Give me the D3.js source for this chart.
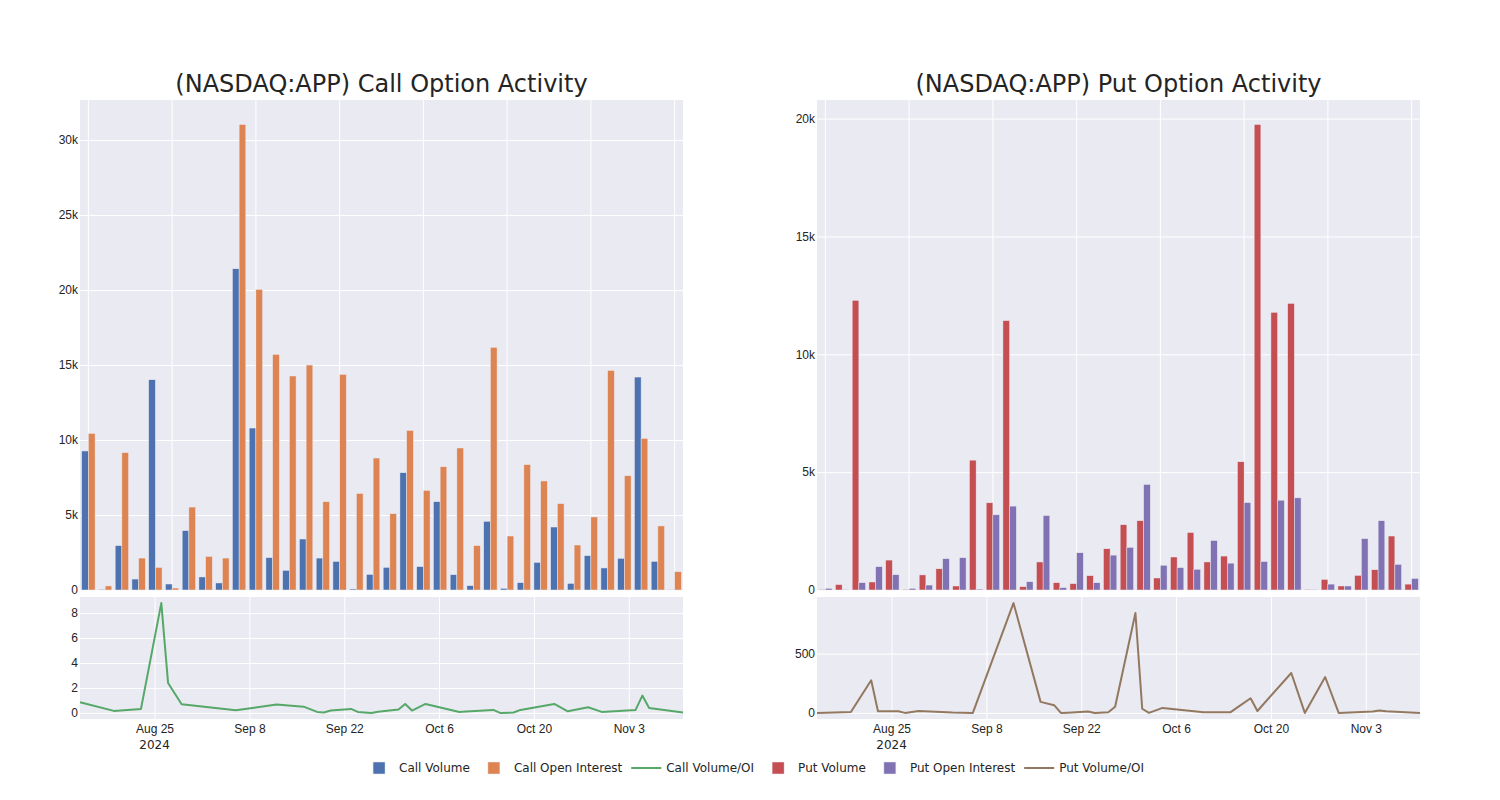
<!DOCTYPE html>
<html>
<head>
<meta charset="utf-8">
<script src="https://cdn.jsdelivr.net/npm/d3@7"></script>
<style>
  html, body { margin: 0; padding: 0; background: #fff; }
  svg { display: block; font-family: "DejaVu Sans", verdana, arial, sans-serif; }
</style>
</head>
<body>
<svg id="chart" width="1500" height="800"></svg>
<script>
// ---------------- DATA ----------------
const dates = ["2024-08-14","2024-08-19","2024-08-22","2024-08-23","2024-08-26","2024-08-27","2024-08-29",
  "2024-09-03","2024-09-06","2024-09-12","2024-09-16","2024-09-18","2024-09-19","2024-09-20","2024-09-23",
  "2024-09-24","2024-09-26","2024-09-27","2024-09-30","2024-10-01","2024-10-02","2024-10-04","2024-10-09",
  "2024-10-10","2024-10-14","2024-10-15","2024-10-17","2024-10-18","2024-10-23","2024-10-25","2024-10-28",
  "2024-10-30","2024-11-04","2024-11-05","2024-11-06","2024-11-11"];

const callVolume = [9270, 50, 2960, 730, 14020, 400, 3960, 870, 470, 21420, 10800, 2160, 1310, 3400, 2130, 1910,
  70, 1040, 1510, 7820, 1560, 5890, 1020, 290, 4580, 110, 490, 1840, 4200, 440, 2290, 1470, 2110, 14200, 1910, 20];
const callOI = [10440, 270, 9160, 2130, 1510, 130, 5530, 2240, 2130, 31040, 20040, 15710, 14270, 15000, 5890, 14380,
  6440, 8800, 5090, 10640, 6640, 8220, 9470, 2960, 16180, 3600, 8360, 7270, 5760, 3000, 4870, 14640, 7620, 10110, 4270, 1220];
const callRatio = [0.85, 0.16, 0.28, 0.32, 8.8, 2.4, 0.69, 0.4, 0.21, 0.67, 0.5, 0.08, 0.03, 0.19, 0.32, 0.08,
  0.0, 0.1, 0.27, 0.72, 0.19, 0.72, 0.08, 0.11, 0.24, 0.0, 0.03, 0.24, 0.72, 0.13, 0.45, 0.08, 0.24, 1.39, 0.4, 0.03];

const putVolume = [30, 230, 12290, 340, 1270, 30, 640, 900, 170, 5510, 3700, 11430, 140, 1190, 310, 270, 610, 1750,
  2770, 2940, 510, 1400, 2440, 1190, 1440, 5440, 19750, 11780, 12160, 30, 450, 170, 620, 860, 2290, 250];
const putOI = [70, 10, 310, 990, 650, 70, 210, 1330, 1370, 40, 3190, 3560, 350, 3160, 100, 1580, 310, 1480,
  1810, 4480, 1050, 950, 880, 2100, 1140, 3710, 1210, 3810, 3910, 10, 250, 170, 2180, 2940, 1090, 490];
const putRatio = [0, 8, 275, 14, 14, 0, 17, 4, 0, 927, 93, 65, 0, 2, 11, 0, 6, 52, 843, 35, 0, 42, 11, 5, 5, 45,
  124, 16, 337, 0, 303, 0, 11, 20, 14, 0];

const callTopTicks = [0, 5000, 10000, 15000, 20000, 25000, 30000];
const callBottomTicks = [0, 2, 4, 6, 8];
const putTopTicks = [0, 5000, 10000, 15000, 20000];
const putBottomTicks = [0, 500];
const dateTicks = ["2024-08-25", "2024-09-08", "2024-09-22", "2024-10-06", "2024-10-20", "2024-11-03"];
const titles = ["(NASDAQ:APP) Call Option Activity", "(NASDAQ:APP) Put Option Activity"];
const legendItems = [
  {name: "Call Volume", type: "bar", color: "#4C72B0"},
  {name: "Call Open Interest", type: "bar", color: "#DD8452"},
  {name: "Call Volume/OI", type: "line", color: "#55A868"},
  {name: "Put Volume", type: "bar", color: "#C44E52"},
  {name: "Put Open Interest", type: "bar", color: "#8172B3"},
  {name: "Put Volume/OI", type: "line", color: "#937860"}
];

// ---------------- LAYOUT ----------------
const BG = "#EAEAF2", TXT = "rgb(36,36,36)", EDGE = "rgb(234,234,242)";
const topY = [100, 590], botY = [597, 719];
const svg = d3.select("#chart");
svg.append("rect").attr("width", 1500).attr("height", 800).attr("fill", "#fff");

const parse = d3.utcParse("%Y-%m-%d");
const fmtMD = d3.utcFormat("%b %-d");

function padRange(vals) {
  const mn = Math.min(0, d3.min(vals)), mx = d3.max(vals);
  const L = (mx - mn) / 0.9;
  return [mn - 0.05 * L, mx + 0.05 * L];
}

function panel(cfg) {
  const [x0, x1] = cfg.xr;
  const g = svg.append("g");

  // ---- top bar chart ----
  g.append("rect").attr("x", x0).attr("y", topY[0]).attr("width", x1 - x0).attr("height", topY[1] - topY[0]).attr("fill", BG);
  const xb = d3.scaleBand().domain(dates).range([x0, x1]).paddingInner(0.2).paddingOuter(0.1);
  const xs = d3.scaleBand().domain([0, 1]).range([0, xb.bandwidth()]);
  const yT = d3.scaleLinear().domain([0, d3.max(cfg.oi.concat(cfg.vol)) * 1.0526]).range([topY[1], topY[0]]);

  // vertical grid every 5 categories
  const gridCats = dates.filter((d, i) => i % 5 === 0);
  g.append("g").selectAll("line").data(gridCats).join("line")
    .attr("x1", d => xb(d) + xb.bandwidth() / 2).attr("x2", d => xb(d) + xb.bandwidth() / 2)
    .attr("y1", topY[0]).attr("y2", topY[1]).attr("stroke", "#fff").attr("stroke-width", 1);

  const ayT = d3.axisLeft(yT).tickValues(cfg.topTicks).tickFormat(d3.format("~s")).tickSize(-(x1 - x0)).tickPadding(2);
  const gyT = g.append("g").attr("transform", `translate(${x0},0)`).call(ayT);
  gyT.select(".domain").remove();
  gyT.selectAll("line").attr("stroke", "#fff").attr("stroke-width", 1);
  gyT.selectAll("text").attr("fill", TXT).style("font-size", "12px").style("font-family", "inherit");

  const series = [{v: cfg.vol, c: cfg.colors[0]}, {v: cfg.oi, c: cfg.colors[1]}];
  series.forEach((s, si) => {
    g.append("g").selectAll("rect").data(dates).join("rect")
      .attr("x", d => xb(d) + xs(si))
      .attr("width", xs.bandwidth())
      .attr("y", (d, i) => yT(s.v[i]))
      .attr("height", (d, i) => yT(0) - yT(s.v[i]))
      .attr("fill", s.c).attr("stroke", EDGE).attr("stroke-width", 0.5);
  });

  // ---- bottom line chart ----
  g.append("rect").attr("x", x0).attr("y", botY[0]).attr("width", x1 - x0).attr("height", botY[1] - botY[0]).attr("fill", BG);
  const xt = d3.scaleUtc().domain([parse(dates[0]), parse(dates[dates.length - 1])]).range([x0, x1]);
  const yB = d3.scaleLinear().domain(padRange(cfg.ratio)).range([botY[1], botY[0]]);

  const ayB = d3.axisLeft(yB).tickValues(cfg.botTicks).tickFormat(d3.format("~s")).tickSize(-(x1 - x0)).tickPadding(2);
  const gyB = g.append("g").attr("transform", `translate(${x0},0)`).call(ayB);
  gyB.select(".domain").remove();
  gyB.selectAll("line").attr("stroke", "#fff").attr("stroke-width", 1);
  gyB.selectAll("text").attr("fill", TXT).style("font-size", "12px").style("font-family", "inherit");

  const tickDates = dateTicks.map(parse);
  const axB = d3.axisBottom(xt).tickValues(tickDates).tickFormat(fmtMD).tickSize(-(botY[1] - botY[0])).tickPadding(5);
  const gxB = g.append("g").attr("transform", `translate(0,${botY[1]})`).call(axB);
  gxB.select(".domain").remove();
  gxB.selectAll("line").attr("stroke", "#fff").attr("stroke-width", 1);
  gxB.selectAll("text").attr("fill", TXT).style("font-size", "12px").style("font-family", "inherit");
  // year label under first tick
  g.append("text").attr("x", xt(tickDates[0])).attr("y", 749).attr("text-anchor", "middle")
    .attr("fill", TXT).style("font-size", "12px").text(d3.utcFormat("%Y")(tickDates[0]));

  const line = d3.line().x((d, i) => xt(parse(dates[i]))).y(d => yB(d));
  g.append("path").datum(cfg.ratio).attr("d", line).attr("fill", "none")
    .attr("stroke", cfg.colors[2]).attr("stroke-width", 2).attr("stroke-linejoin", "round");

  // title
  g.append("text").attr("x", (x0 + x1) / 2).attr("y", 92).attr("text-anchor", "middle")
    .attr("fill", TXT).style("font-size", "24px").text(cfg.title);
}

panel({xr: [80, 683], vol: callVolume, oi: callOI, ratio: callRatio, topTicks: callTopTicks,
  botTicks: callBottomTicks, colors: ["#4C72B0", "#DD8452", "#55A868"], title: titles[0]});
panel({xr: [817, 1420], vol: putVolume, oi: putOI, ratio: putRatio, topTicks: putTopTicks,
  botTicks: putBottomTicks, colors: ["#C44E52", "#8172B3", "#937860"], title: titles[1]});

// ---------------- LEGEND ----------------
const lg = svg.append("g");
let cx = 0;
legendItems.forEach(it => {
  const ig = lg.append("g").attr("transform", `translate(${cx},0)`);
  if (it.type === "bar") {
    ig.append("rect").attr("x", 14).attr("y", -6).attr("width", 12).attr("height", 12)
      .attr("fill", it.color).attr("stroke", EDGE).attr("stroke-width", 0.5);
  } else {
    ig.append("line").attr("x1", 5).attr("x2", 35).attr("y1", 0).attr("y2", 0)
      .attr("stroke", it.color).attr("stroke-width", 2);
  }
  const t = ig.append("text").attr("x", 40).attr("y", 0).attr("dy", "0.35em")
    .attr("fill", TXT).style("font-size", "12px").text(it.name);
  const w = t.node().getComputedTextLength();
  cx += 40 + w + 4;
});
const totalW = cx - 4;
lg.attr("transform", `translate(${(356 + 1147) / 2 - totalW / 2},768)`);
</script>
</body>
</html>
